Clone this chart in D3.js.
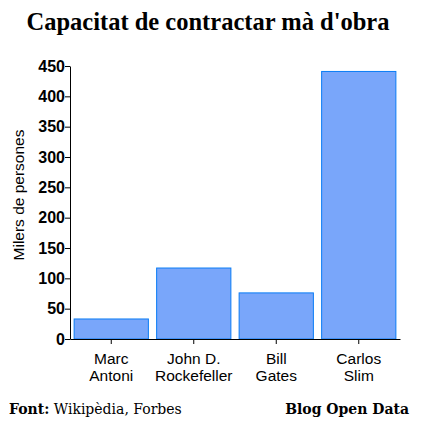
<!DOCTYPE html>
<html>
<head>
<meta charset="utf-8">
<script src="https://cdn.jsdelivr.net/npm/d3@7"></script>
<style>
  body { margin: 0; background: #fff; }
  .tick line, .domain { stroke: #000; }
</style>
</head>
<body>
<svg width="425" height="428"></svg>
<script>
// Data
const names = [["Marc", "Antoni"], ["John D.", "Rockefeller"], ["Bill", "Gates"], ["Carlos", "Slim"]];
const values = [33, 117, 76, 441];
const yTicks = [0, 50, 100, 150, 200, 250, 300, 350, 400, 450];

const margin = { top: 66, right: 25, bottom: 89, left: 70 };
const width = 425 - margin.left - margin.right;
const height = 428 - margin.top - margin.bottom;

const svg = d3.select("svg");

// Title
svg.append("text")
    .attr("x", 208)
    .attr("y", 30)
    .attr("text-anchor", "middle")
    .style("font-family", "'Liberation Serif', serif")
    .style("font-weight", "bold")
    .style("font-size", "24.5px")
    .text("Capacitat de contractar mà d'obra");

const g = svg.append("g")
    .attr("transform", `translate(${margin.left}, ${margin.top})`);

const idx = d3.range(values.length);

const xScale = d3.scaleBand()
    .domain(idx)
    .range([0, width])
    .paddingInner(0.1)
    .paddingOuter(0.05);

const yScale = d3.scaleLinear()
    .domain([0, 450])
    .range([height, 0]);

// Bars
g.selectAll(".bar")
    .data(idx)
    .enter()
    .append("rect")
    .attr("class", "bar")
    .attr("x", i => xScale(i))
    .attr("y", i => yScale(values[i]))
    .attr("width", xScale.bandwidth())
    .attr("height", i => height - yScale(values[i]))
    .attr("fill", "#79a6fa")
    .attr("stroke", "#0a7cf5")
    .attr("stroke-width", 1);

// Y axis
const yAxis = g.append("g")
    .call(d3.axisLeft(yScale).tickValues(yTicks).tickSize(5).tickSizeOuter(0));
yAxis.selectAll("text")
    .style("font-family", "'Liberation Sans', Arial, sans-serif")
    .style("font-weight", "bold")
    .style("font-size", "16px")
    .attr("x", -5);

// X axis
const xAxis = g.append("g")
    .attr("transform", `translate(0, ${height})`)
    .call(d3.axisBottom(xScale).tickSize(5).tickSizeOuter(0).tickFormat(""));

xAxis.selectAll(".tick").each(function(i) {
    const t = d3.select(this).append("text")
        .attr("fill", "#000")
        .attr("text-anchor", "middle")
        .style("font-family", "'Liberation Sans', Arial, sans-serif")
        .style("font-size", "15.5px");
    names[i].forEach((s, k) => {
        t.append("tspan").attr("x", 0).attr("y", 25 + k * 17).text(s);
    });
});

// Y label
svg.append("text")
    .attr("transform", `translate(24, ${margin.top + 129}) rotate(-90)`)
    .attr("text-anchor", "middle")
    .style("font-family", "'Liberation Sans', Arial, sans-serif")
    .style("font-size", "15.5px")
    .text("Milers de persones");

// Footer
const src = svg.append("text")
    .attr("x", 9)
    .attr("y", 414)
    .style("font-family", "'DejaVu Serif', serif")
    .style("font-size", "14px");
src.append("tspan").style("font-weight", "bold").text("Font:");
src.append("tspan").text(" Wikipèdia, Forbes");

svg.append("text")
    .attr("x", 409)
    .attr("y", 414)
    .attr("text-anchor", "end")
    .style("font-family", "'DejaVu Serif', serif")
    .style("font-weight", "bold")
    .style("font-size", "14px")
    .text("Blog Open Data");
</script>
</body>
</html>
